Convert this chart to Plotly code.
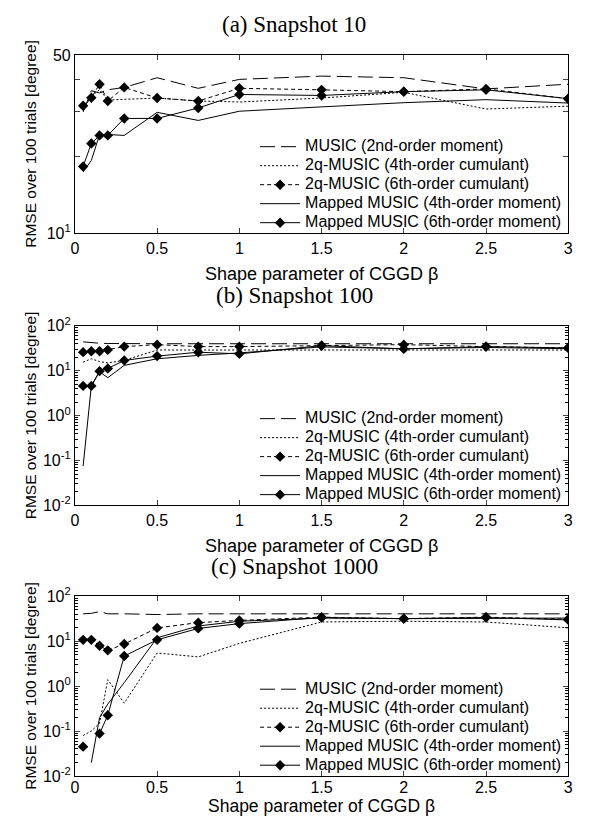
import plotly.graph_objects as go

# ---------------- data ----------------
beta = [0.05, 0.1, 0.15, 0.2, 0.3, 0.5, 0.75, 1, 1.5, 2, 2.5, 3]

series_names = [
    "MUSIC (2nd-order moment)",
    "2q-MUSIC (4th-order cumulant)",
    "2q-MUSIC (6th-order cumulant)",
    "Mapped MUSIC (4th-order moment)",
    "Mapped MUSIC (6th-order moment)",
]

# (a) Snapshot 10
music_a = [29.9, 36.2, 35.5, 36.5, 37.3, 40.7, 37.0, 40.1, 41.3, 40.7, 36.8, 38.4]
q4_a = [30.5, 34.5, 36.5, 33.3, 33.5, 33.9, 33.0, 32.7, 33.9, 35.7, 30.7, 31.5]
q6_a = [31.6, 34.0, 38.4, 33.0, 37.3, 33.9, 33.0, 37.0, 36.5, 35.9, 36.8, 33.7]
map4_a = [17.4, 19.3, 24.4, 24.4, 24.2, 29.8, 27.7, 30.1, 31.3, 32.5, 33.4, 32.4]
map6_a = [18.3, 22.5, 24.2, 24.2, 28.2, 28.2, 31.0, 35.0, 34.7, 35.9, 36.5, 33.7]

# (b) Snapshot 100
music_b = [44, 42, 41, 40.5, 40, 40, 40, 40, 40, 40, 40, 40]
q4_b = [15.6, 18.5, 16, 15, 17, 29, 29, 29, 29, 29, 29, 29]
q6_b = [26, 27.3, 27.3, 29.2, 34.5, 38.2, 34.5, 34.5, 36.3, 38.2, 34.5, 32.3]
map4_b = [0.075, 4.6, 9.5, 7.0, 13.2, 18.5, 22, 25, 34, 31, 33, 31]
map6_b = [4.6, 4.6, 9.8, 11.2, 17.0, 21.2, 25.9, 23.8, 36.3, 30.7, 34.5, 32.3]

# (c) Snapshot 1000  (None = zero error, not drawable on a log axis)
music_c = [41, 42, 46, 41, 41, 39.6, 41, 41, 41, 41, 41, 41]
q4_c = [0.08, 0.1, 0.15, 1.4, 0.42, 5.5, 4.5, 9, 27, 28, 27, 20]
q6_c = [10.8, 10.8, 8.0, 6.3, 8.7, 19.9, 26.1, 29.3, 34.6, 32, 34.6, 31]
map4_c = [None, 0.02, 0.2, 0.4, 1.2, 12, 22, 28, 33, 32, 32, 33]
map6_c = [0.045, None, 0.088, 0.225, 4.7, 10.8, 19.4, 24.8, 34, 32, 34, 30]

panel_titles = ["(a) Snapshot 10", "(b) Snapshot 100", "(c) Snapshot 1000"]
x_title = "Shape parameter of CGGD β"
y_title = "RMSE over 100 trials [degree]"
x_ticks = [0, 0.5, 1, 1.5, 2, 2.5, 3]
x_ticktext = ["0", "0.5", "1", "1.5", "2", "2.5", "3"]
ya_ticks = [10, 20, 30, 40, 50]
ya_ticktext = ["10<sup>1</sup>", "", "", "", "50"]
ybc_ticks = [0.01, 0.1, 1, 10, 100]
ybc_ticktext = ["10<sup>-2</sup>", "10<sup>-1</sup>", "10<sup>0</sup>", "10<sup>1</sup>", "10<sup>2</sup>"]
ybc_minor = [m * 10.0 ** k for k in range(-2, 2) for m in range(2, 10)]

# ---------------- layout geometry ----------------
W, H = 589, 825
x_left, x_right = 72, 573
panels_px = [(45, 228), (322.7, 506.7), (600, 784)]  # top, bottom in px
xtitle_px = [270, 548, 815]
xtitle_size = [18, 18, 17.5]
xtick_standoff = [0, 0, -3]

def py(v):
    return 1 - v / H

styles = [
    dict(dash="15px,6px", marker=False),
    dict(dash="2px,2px", marker=False),
    dict(dash="4px,3px", marker=True),
    dict(dash="solid", marker=False),
    dict(dash="solid", marker=True),
]

data_sets = [
    [music_a, q4_a, q6_a, map4_a, map6_a],
    [music_b, q4_b, q6_b, map4_b, map6_b],
    [music_c, q4_c, q6_c, map4_c, map6_c],
]

fig = go.Figure()
FONT = "Liberation Sans, Arial, sans-serif"

for p, sets in enumerate(data_sets):
    xa = "x" if p == 0 else f"x{p+1}"
    ya = "y" if p == 0 else f"y{p+1}"
    lg = "legend" if p == 0 else f"legend{p+1}"
    for s, (vals, st) in enumerate(zip(sets, styles)):
        fig.add_trace(go.Scatter(
            x=beta, y=vals,
            name=f'<span style="font-size:16px">{series_names[s]}</span>',
            mode="lines+markers" if st["marker"] else "lines",
            line=dict(color="black", width=1, dash=st["dash"]),
            marker=dict(symbol="diamond", size=8, color="black"),
            xaxis=xa, yaxis=ya, legend=lg, cliponaxis=True, connectgaps=False,
        ))

layout = dict(
    width=W, height=H, margin=dict(l=0, r=0, t=0, b=0),
    paper_bgcolor="white", plot_bgcolor="white",
    font=dict(family=FONT, size=16, color="black"),
    showlegend=True,
    annotations=[],
)

for p in range(3):
    top, bot = panels_px[p]
    xk = "xaxis" if p == 0 else f"xaxis{p+1}"
    yk = "yaxis" if p == 0 else f"yaxis{p+1}"
    ya = "y" if p == 0 else f"y{p+1}"
    xa = "x" if p == 0 else f"x{p+1}"
    layout[xk] = dict(
        domain=[x_left / W, x_right / W], anchor=ya, range=[0, 3],
        tickvals=x_ticks, ticktext=x_ticktext, ticks="inside", ticklen=5,
        showline=True, mirror="ticks", linecolor="black", linewidth=1,
        showgrid=False, zeroline=False, tickfont=dict(size=16),
        ticklabelstandoff=xtick_standoff[p],
    )
    ycfg = dict(
        domain=[py(bot), py(top)], anchor=xa, type="log",
        ticks="inside", ticklen=5,
        showline=True, mirror="ticks", linecolor="black", linewidth=1,
        showgrid=False, zeroline=False, tickfont=dict(size=16),
    )
    if p == 0:
        ycfg.update(range=[1, 1.69897], tickvals=ya_ticks, ticktext=ya_ticktext)
    else:
        ycfg.update(range=[-2, 2], tickvals=ybc_ticks, ticktext=ybc_ticktext,
                    minor=dict(tickvals=ybc_minor, ticks="inside", ticklen=3,
                               tickcolor="black"))
    layout[yk] = ycfg
    lk = "legend" if p == 0 else f"legend{p+1}"
    layout[lk] = dict(
        x=x_right / W - 0.002, xanchor="right", y=py(bot - 50), yanchor="middle",
        bgcolor="rgba(255,255,255,0)", borderwidth=0, itemwidth=40,
        font=dict(family=FONT, size=12), tracegroupgap=0,
    )
    mid = (x_left + x_right) / 2 / W
    layout["annotations"] += [
        dict(text=panel_titles[p], x=0.5, y=py(top - 31), xref="paper", yref="paper",
             showarrow=False, xanchor="center", yanchor="middle",
             font=dict(family="Liberation Serif, serif", size=23)),
        dict(text=x_title, x=mid, y=py(xtitle_px[p]), xref="paper", yref="paper",
             showarrow=False, xanchor="center", yanchor="middle",
             font=dict(family=FONT, size=xtitle_size[p])),
        dict(text=y_title, x=27 / W, y=py((top + bot) / 2), xref="paper", yref="paper",
             showarrow=False, xanchor="center", yanchor="middle", textangle=-90,
             font=dict(family=FONT, size=15.5)),
    ]

fig.update_layout(**layout)
fig.write_html(
    "out.html",
    config={"displayModeBar": False},
    post_script="document.body.style.margin='0';document.body.style.overflow='hidden';",
)
